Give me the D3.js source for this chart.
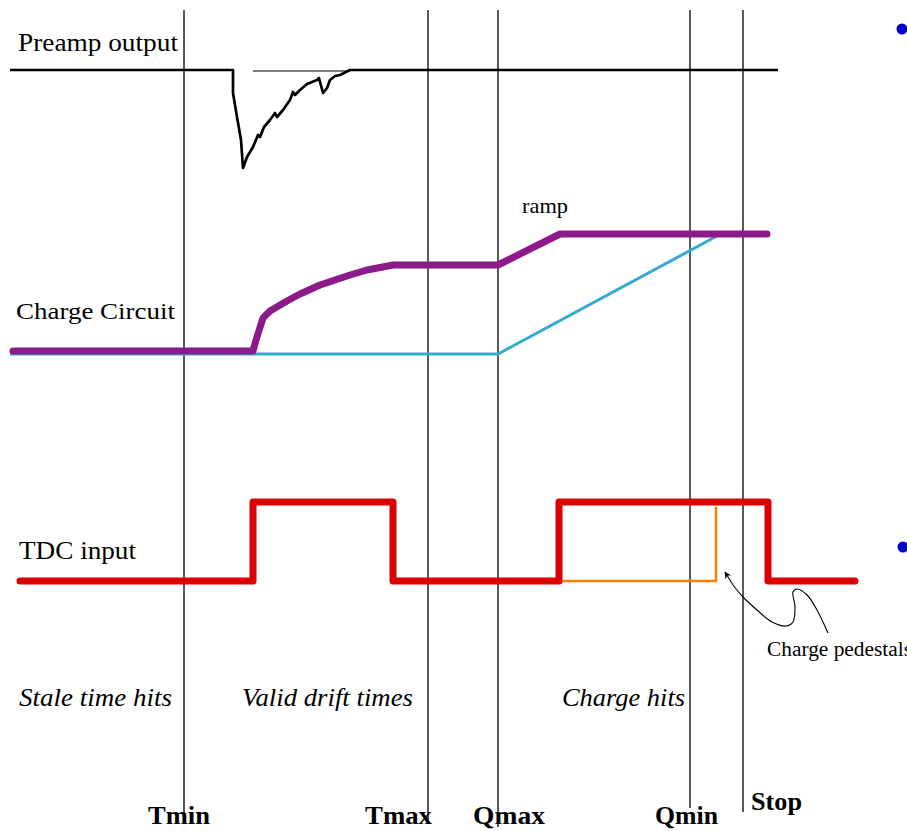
<!DOCTYPE html>
<html>
<head>
<meta charset="utf-8">
<script src="https://cdn.jsdelivr.net/npm/d3@7"></script>
<style>
  body { margin: 0; background: #fff; }
  text { font-family: "Liberation Serif", "DejaVu Serif", serif; fill: #000; }
</style>
</head>
<body>
<div id="chart"></div>
<script>
// time markers (vertical lines)
const markerNames = ["Tmin", "Tmax", "Qmax", "Qmin", "Stop"];
const markerTimes = [184, 428, 498, 690, 743];

// preamp output (negative pulse)
const preampTimes = [10, 233, 233, 237, 241, 243, 247, 253, 258, 260, 264, 270, 275, 277, 283, 290, 293, 295, 300, 307, 317, 319, 323, 327, 330, 335, 340, 348, 350, 778];
const preampLevels = [0, 0, -23, -47, -70, -98, -87, -77, -65, -67, -57, -50, -43, -47, -40, -30, -22, -25, -20, -14, -10, -8, -23, -18, -10, -6, -5, -1, 0, 0];
const preampRefTimes = [253, 350];
const preampRefLevels = [-1, -1];

// charge circuit
const chargeTimes = [13, 253, 256, 263, 270, 287, 300, 320, 350, 367, 393, 498, 560, 767];
const chargeLevels = [0, 0, 11, 33, 40, 50, 57, 66, 76, 81, 86, 86, 117, 117];
const rampTimes = [10, 498, 717];
const rampLevels = [-3, -3, 115];

// TDC input
const tdcTimes = [20, 253, 253, 393, 393, 559, 559, 768, 768, 855];
const tdcLevels = [0, 0, 1, 1, 0, 0, 1, 1, 0, 0];
const pedestalTimes = [559, 716, 716];
const pedestalLevels = [0, 0, 0.94];

// region labels
const regionNames = ["Stale time hits", "Valid drift times", "Charge hits"];
const regionStarts = [19, 242, 562];
const regionEnds = [172, 413, 685];

// hand drawn arrow for the pedestal note
const noteX = [733, 743, 757, 772, 787, 793, 795, 793, 797, 807, 817, 828];
const noteY = [585, 597, 610, 622, 626, 622, 607, 592, 589, 595, 610, 633];

function TimingChart() {
  const w = 907, h = 831;

  const svg = d3.select("#chart")
                .append("svg")
                .attr("width", w)
                .attr("height", h);

  svg.append("defs")
     .append("marker")
     .attr("id", "arrow")
     .attr("viewBox", "0 0 10 10")
     .attr("refX", 9)
     .attr("refY", 5)
     .attr("markerWidth", 9)
     .attr("markerHeight", 7)
     .attr("orient", "auto-start-reverse")
     .attr("markerUnits", "userSpaceOnUse")
     .append("path")
     .attr("d", "M0,0 L10,5 L0,10 L3,5 z")
     .attr("fill", "#000");

  // Set up scales
  const x = d3.scaleLinear().domain([0, w]).range([0, w]);
  const yPre = d3.scaleLinear().domain([-98, 0]).range([168, 70]);
  const yQ = d3.scaleLinear().domain([0, 117]).range([351, 234]);
  const yTdc = d3.scaleLinear().domain([0, 1]).range([581, 502]);

  const zip = (ts, vs) => ts.map((t, i) => [t, vs[i]]);

  // vertical marker lines
  const markerBottom = [823, 823, 827, 808, 812];
  svg.append("g")
     .selectAll("line")
     .data(markerTimes)
     .enter()
     .append("line")
     .attr("x1", d => x(d))
     .attr("x2", d => x(d))
     .attr("y1", 10)
     .attr("y2", (d, i) => markerBottom[i])
     .attr("stroke", "#000")
     .attr("stroke-width", 1.3);

  // Preamp
  const linePre = d3.line().x(d => x(d[0])).y(d => yPre(d[1]));
  svg.append("path")
     .attr("d", linePre(zip(preampRefTimes, preampRefLevels)))
     .attr("fill", "none")
     .attr("stroke", "#000")
     .attr("stroke-width", 1);
  svg.append("path")
     .attr("d", linePre(zip(preampTimes, preampLevels)))
     .attr("fill", "none")
     .attr("stroke", "#000")
     .attr("stroke-width", 2.7)
     .attr("stroke-linejoin", "round");

  // Charge circuit
  const lineQ = d3.line().x(d => x(d[0])).y(d => yQ(d[1]));
  svg.append("path")
     .attr("d", lineQ(zip(rampTimes, rampLevels)))
     .attr("fill", "none")
     .attr("stroke", "#35a9cf")
     .attr("stroke-width", 3);
  svg.append("path")
     .attr("d", lineQ(zip(chargeTimes, chargeLevels)))
     .attr("fill", "none")
     .attr("stroke", "#8c1a8a")
     .attr("stroke-width", 7)
     .attr("stroke-linejoin", "round")
     .attr("stroke-linecap", "round");

  // TDC input
  const lineT = d3.line().x(d => x(d[0])).y(d => yTdc(d[1]));
  svg.append("path")
     .attr("d", lineT(zip(pedestalTimes, pedestalLevels)))
     .attr("fill", "none")
     .attr("stroke", "#ff8000")
     .attr("stroke-width", 2.5);
  svg.append("path")
     .attr("d", lineT(zip(tdcTimes, tdcLevels)))
     .attr("fill", "none")
     .attr("stroke", "#dd0000")
     .attr("stroke-width", 7)
     .attr("stroke-linejoin", "round")
     .attr("stroke-linecap", "round");

  // pedestal note arrow
  const noteLine = d3.line().curve(d3.curveCatmullRom).x(d => x(d[0])).y(d => d[1]);
  svg.append("path")
     .attr("d", noteLine(zip(noteX, noteY)))
     .attr("fill", "none")
     .attr("stroke", "#000")
     .attr("stroke-width", 1.1);
  svg.append("line")
     .attr("x1", x(733)).attr("y1", 585)
     .attr("x2", x(725)).attr("y2", 572)
     .attr("stroke", "#000")
     .attr("stroke-width", 1.1)
     .attr("marker-end", "url(#arrow)");

  // signal labels
  const labels = [
    {t: "Preamp output", x: 18, y: 51, size: 25, len: 160},
    {t: "Charge Circuit", x: 16, y: 319, size: 24, len: 159},
    {t: "TDC input", x: 19, y: 559, size: 25, len: 117},
    {t: "ramp", x: 522, y: 213, size: 21, len: 46},
    {t: "Charge pedestals", x: 767, y: 656, size: 20, len: 145}
  ];
  svg.append("g")
     .selectAll("text")
     .data(labels)
     .enter()
     .append("text")
     .attr("x", d => d.x)
     .attr("y", d => d.y)
     .attr("font-size", d => d.size)
     .attr("textLength", d => d.len)
     .attr("lengthAdjust", "spacingAndGlyphs")
     .text(d => d.t);

  // region labels
  svg.append("g")
     .selectAll("text")
     .data(regionNames)
     .enter()
     .append("text")
     .attr("x", (d, i) => x(regionStarts[i]))
     .attr("y", 706)
     .attr("font-size", 26)
     .attr("font-style", "italic")
     .attr("textLength", (d, i) => x(regionEnds[i]) - x(regionStarts[i]))
     .attr("lengthAdjust", "spacingAndGlyphs")
     .text(d => d);

  // marker names
  const nameX = [148, 365, 473, 655, 751];
  const nameW = [62, 67, 72, 63, 51];
  const nameY = [824, 824, 824, 824, 810];
  svg.append("g")
     .selectAll("text")
     .data(markerNames)
     .enter()
     .append("text")
     .attr("x", (d, i) => nameX[i])
     .attr("y", (d, i) => nameY[i])
     .attr("font-size", 25)
     .attr("font-weight", "bold")
     .attr("textLength", (d, i) => nameW[i])
     .attr("lengthAdjust", "spacingAndGlyphs")
     .text(d => d);

  // slide bullets
  svg.append("g")
     .selectAll("circle")
     .data([[902, 29], [903, 547]])
     .enter()
     .append("circle")
     .attr("cx", d => d[0])
     .attr("cy", d => d[1])
     .attr("r", 5.5)
     .attr("fill", "#0000cc");
}

window.onload = function() {
  TimingChart();
}
</script>
</body>
</html>
